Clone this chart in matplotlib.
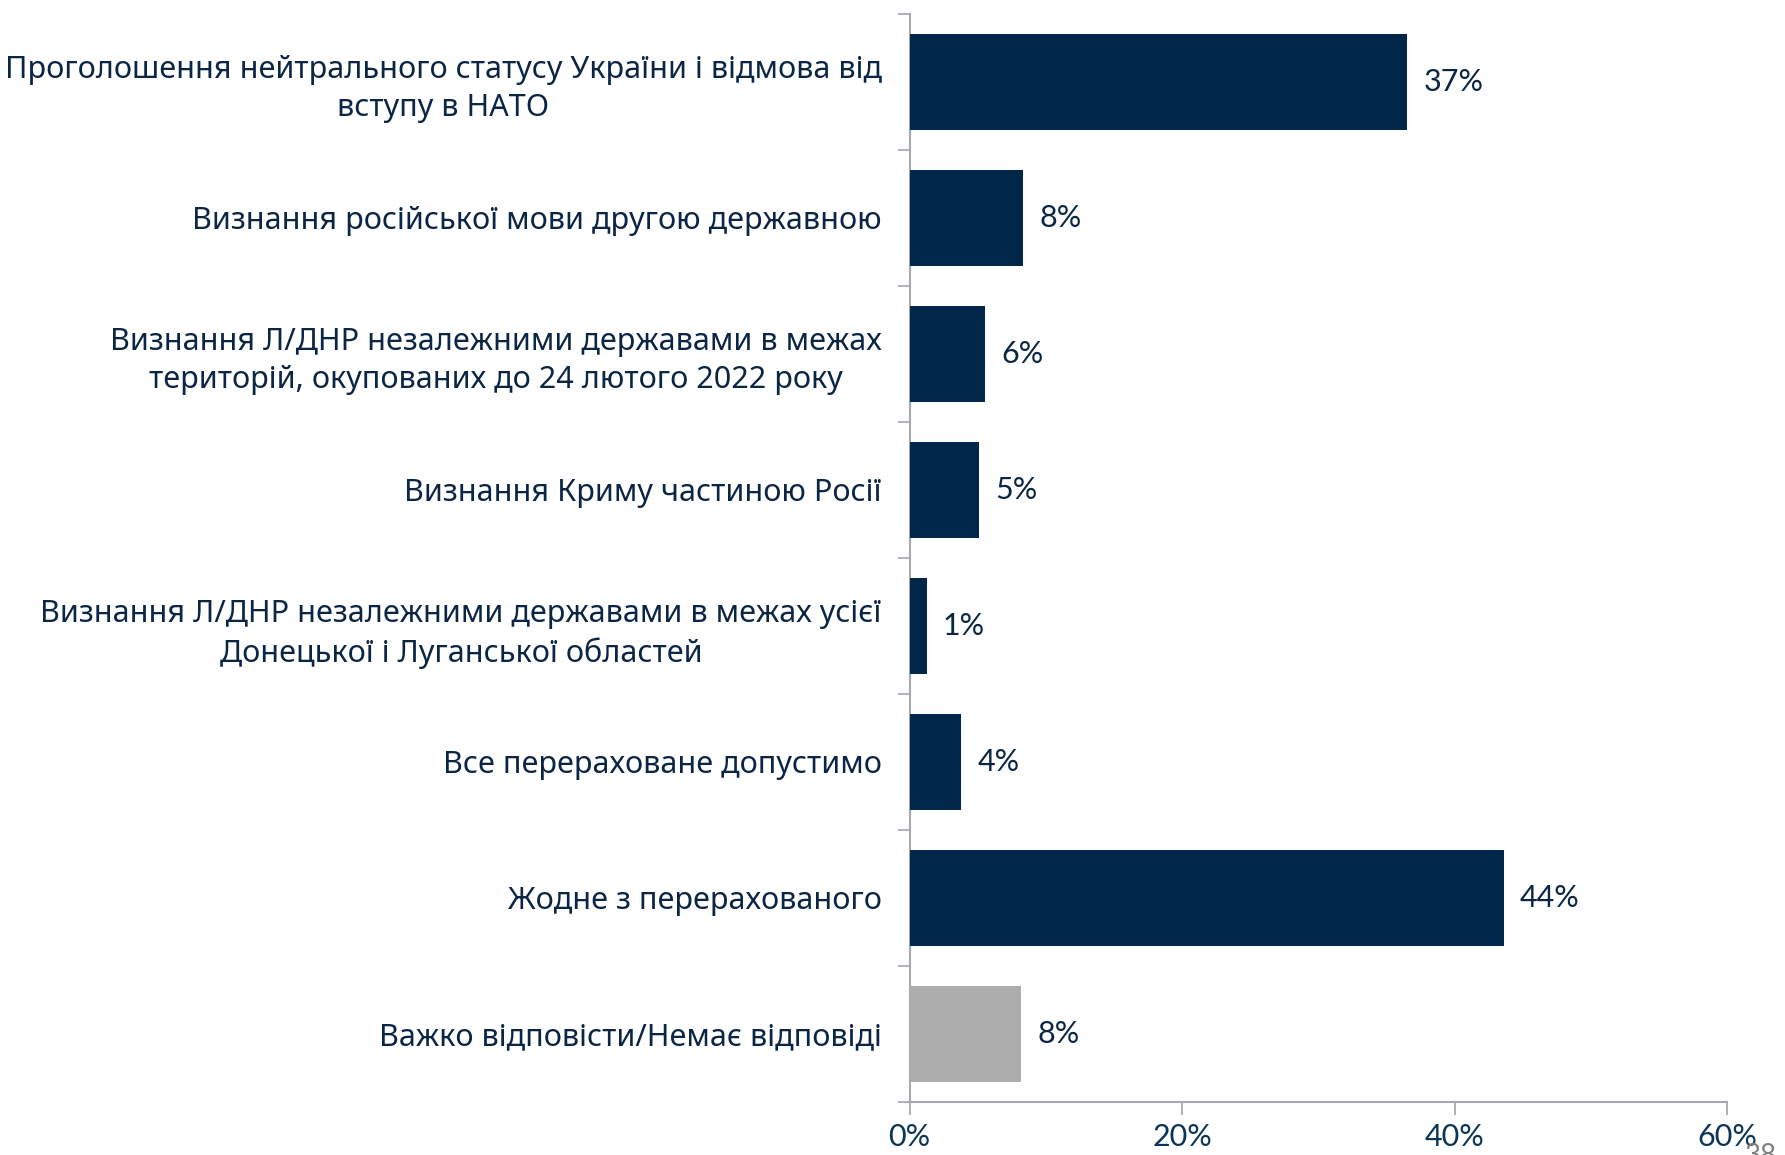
import matplotlib
matplotlib.use("Agg")
import matplotlib.pyplot as plt
import numpy as np

categories = [
    "Проголошення нейтрального статусу України і відмова від\nвступу в НАТО",
    "Визнання російської мови другою державною",
    "Визнання Л/ДНР незалежними державами в межах\nтериторій, окупованих до 24 лютого 2022 року",
    "Визнання Криму частиною Росії",
    "Визнання Л/ДНР незалежними державами в межах усієї\nДонецької і Луганської областей",
    "Все перераховане допустимо",
    "Жодне з перерахованого",
    "Важко відповісти/Немає відповіді",
]
values = [36.5, 8.3, 5.5, 5.1, 1.25, 3.8, 43.6, 8.2]
value_labels = ["37%", "8%", "6%", "5%", "1%", "4%", "44%", "8%"]
xticks = [0, 20, 40, 60]
xtick_labels = ["0%", "20%", "40%", "60%"]

navy = "#00264A"
grey_bar = "#ADADAD"
text_col = "#0B2545"
axis_col = "#A6A9B0"

fig = plt.figure(figsize=(17.85, 11.55), dpi=100)
ax = fig.add_axes([0.5096, 0.0459, 0.9675 - 0.5096, 0.988 - 0.0459])

y = np.arange(len(categories))
colors = [navy] * (len(categories) - 1) + [grey_bar]
ax.barh(y, values, height=0.71, color=colors, zorder=3)

for yi, v, lab in zip(y, values, value_labels):
    ax.text(v + 1.2, yi, lab, va="center", ha="left", fontsize=22,
            family="Lato", color=text_col)

ax.set_xlim(0, 60)
ax.set_ylim(len(categories) - 0.5, -0.5)
ax.set_yticks(y)
ax.set_yticklabels(categories, fontsize=22, family="Noto Sans", color=text_col,
                   multialignment="center", linespacing=1.35)
ax.tick_params(axis="y", which="major", length=0, pad=20)
ax.set_yticks(np.arange(-0.5, len(categories) + 0.5, 1), minor=True)
ax.tick_params(axis="y", which="minor", length=9, color=axis_col, width=1.3)

ax.set_xticks(xticks)
ax.set_xticklabels(xtick_labels, fontsize=22, family="Lato", color="#0B3558")
ax.tick_params(axis="x", length=9, color=axis_col, width=1.3, pad=6)

for s in ["top", "right"]:
    ax.spines[s].set_visible(False)
for s in ["left", "bottom"]:
    ax.spines[s].set_color(axis_col)
    ax.spines[s].set_linewidth(1.5)

fig.text(1745 / 1785, 1 - 1143 / 1155, "38", fontsize=20, family="Lato",
         color="#7F7F7F", ha="left", va="top")

fig.savefig("out.png", dpi=100)
